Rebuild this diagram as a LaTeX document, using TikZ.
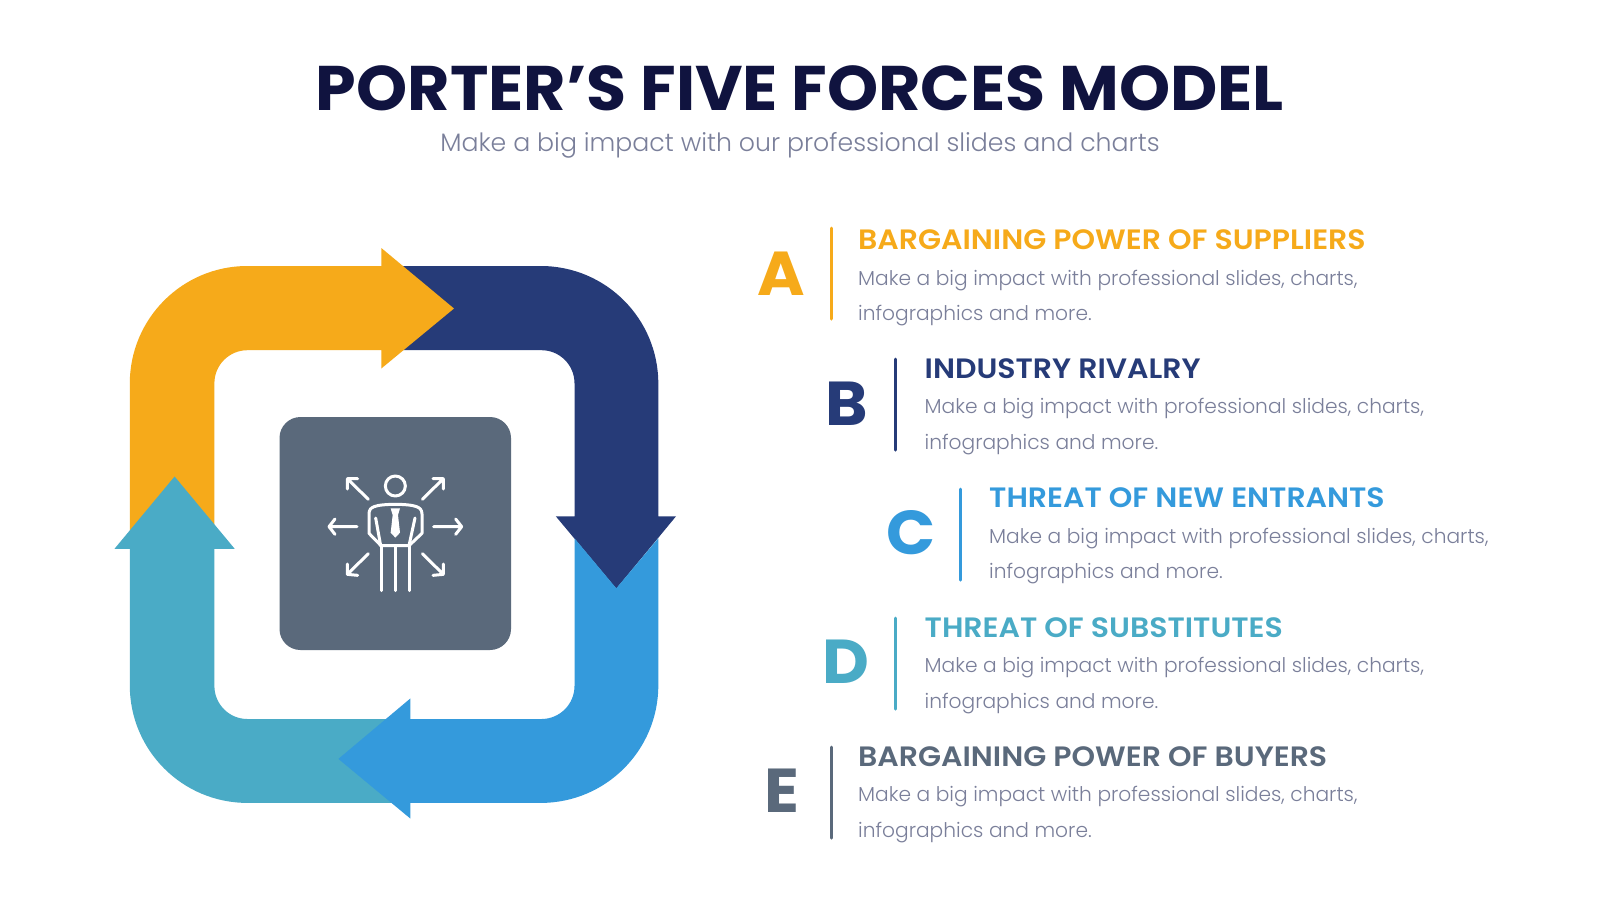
\documentclass[tikz,border=0pt]{standalone}
\usepackage{fontspec}
\setmainfont{Poppins}
\newfontfamily\tfont[FakeStretch=1.033]{Poppins Bold}
\newfontfamily\hfont[FakeStretch=1.07]{Poppins SemiBold}
\newfontfamily\lfont[FakeStretch=1.04]{Poppins Bold}
\newfontfamily\bfont{Poppins Light}
\definecolor{cyellow}{HTML}{F6AA1A}
\definecolor{cnavy}{HTML}{263B78}
\definecolor{cblue}{HTML}{349ADC}
\definecolor{cteal}{HTML}{4AABC6}
\definecolor{cslate}{HTML}{5A697B}
\definecolor{ctitle}{HTML}{10133F}
\definecolor{cgrey}{HTML}{7A7F9A}
\tikzset{
 x=1pt,y=-1pt,
 titletext/.style={font=\tfont\fontsize{63}{63}\selectfont,text=ctitle,anchor=base,inner sep=0pt},
 subtext/.style={font=\bfont\fontsize{25.2}{26}\selectfont,text=cgrey,anchor=base,inner sep=0pt},
 headtext/.style={font=\hfont\fontsize{28}{28}\selectfont,anchor=base west,inner sep=0pt},
 bodytext/.style={font=\bfont\fontsize{20.2}{21}\selectfont,text=cgrey,anchor=base west,inner sep=0pt},
 lettertext/.style={font=\lfont\fontsize{62}{62}\selectfont,anchor=base,inner sep=0pt},
 sepbar/.style={line width=3pt,line cap=round},
 iconline/.style={draw=white,line width=3pt,line cap=round,line join=round},
}
\begin{document}
\begin{tikzpicture}
\useasboundingbox (0,0) rectangle (1600,900);
\fill[white] (0,0) rectangle (1600,900);
% ring
\fill[cnavy] (395,266) -- (540.8,266) .. controls (605.7,266) and (658.3,318.6) .. (658.3,383.5) -- (658.3,516.3) -- (676,516.3) -- (616.3,588.6) -- (555.8,516.3) -- (574.5,516.3) -- (574.5,383.2) .. controls (574.5,365) and (559.7,350.2) .. (541.5,350.2) -- (395,350.2) -- cycle;
\fill[cyellow] (129.8,535) -- (129.8,383.5) .. controls (129.8,318.6) and (182.4,266) .. (247.3,266) -- (381.3,266) -- (381.3,248) -- (454,308.5) -- (381.3,368.5) -- (381.3,350.2) -- (247.4,350.2) .. controls (229.2,350.2) and (214.4,365) .. (214.4,383.2) -- (214.4,535) -- cycle;
\fill[cteal] (400,719) -- (247.4,719) .. controls (229.2,719) and (214.4,704.2) .. (214.4,686) -- (214.4,548.8) -- (234.7,548.8) -- (174.6,476.5) -- (114.5,548.8) -- (129.8,548.8) -- (129.8,685.4) .. controls (129.8,750.3) and (182.4,802.9) .. (247.3,802.9) -- (400,802.9) -- cycle;
\fill[cblue] (574.5,538.3) -- (616.3,588.3) -- (658.3,538.3) -- (658.3,685.4) .. controls (658.3,750.3) and (605.7,802.9) .. (540.8,802.9) -- (410.4,802.9) -- (410.4,818.6) -- (338.4,758.9) -- (410.4,698.4) -- (410.4,719) -- (541.5,719) .. controls (559.7,719) and (574.5,704.2) .. (574.5,686) -- cycle;
% centre
\fill[cslate,rounded corners=21pt] (279.5,417) rectangle (511,650);
\begin{scope}[shift={(260,400)},scale=1/3]
\draw[iconline] (406,258) circle[radius=30];
\draw[iconline] (325,298) -- (262,236) (262,267) -- (262,236) -- (293,236);
\draw[iconline] (487,298) -- (550,236) (519,236) -- (550,236) -- (550,267);
\draw[iconline] (291,380) -- (207,380) (225,357) -- (207,380) -- (225,403);
\draw[iconline] (521,380) -- (605,380) (587,357) -- (605,380) -- (587,403);
\draw[iconline] (325,461) -- (262,523) (262,492) -- (262,523) -- (293,526);
\draw[iconline] (487,461) -- (550,523) (519,526) -- (550,523) -- (550,492);
\draw[iconline] (406,313) .. controls (380,313) and (355,315) .. (342,320) .. controls (332,324) and (327,330) .. (327,342) -- (327,400) -- (363,437) -- (447,437) -- (486,400) -- (486,342) .. controls (486,330) and (480,324) .. (470,320) .. controls (457,315) and (432,313) .. (406,313);
\draw[iconline] (347,354) -- (362,437) (465,354) -- (447,437);
\draw[iconline] (364,437) -- (364,572) (406,437) -- (406,572) (447,437) -- (447,572);
\fill[white] (392,325) -- (420,325) -- (414,345) -- (420,398) -- (406,413) -- (392,398) -- (398,345) -- cycle;
\end{scope}
% title
\node[titletext] (title) at (800,110) {PORTER’S FIVE FORCES MODEL};
\node[subtext] (subtitle) at (800,151) {Make a big impact with our professional slides and charts};
% items
\node[lettertext,text=cyellow] (la) at (781,295) {A};
\draw[sepbar,cyellow] (831.5,228) -- (831.5,319);
\node[headtext,text=cyellow] (ha) at (858,249.5) {BARGAINING POWER OF SUPPLIERS};
\node[bodytext] (ba1) at (858,285) {Make a big impact with professional slides, charts,};
\node[bodytext] (ba2) at (858,320.7) {infographics and more.};
\node[lettertext,text=cnavy] (lb) at (847,425.5) {B};
\draw[sepbar,cnavy] (895.5,359) -- (895.5,450);
\node[headtext,text=cnavy] (hb) at (924.5,378.5) {INDUSTRY RIVALRY};
\node[bodytext] (bb1) at (924.5,413.6) {Make a big impact with professional slides, charts,};
\node[bodytext] (bb2) at (924.5,449.3) {infographics and more.};
\node[lettertext,text=cblue] (lc) at (911,554.5) {C};
\draw[sepbar,cblue] (960.5,489) -- (960.5,580);
\node[headtext,text=cblue] (hc) at (989,507.5) {THREAT OF NEW ENTRANTS};
\node[bodytext] (bc1) at (989,543) {Make a big impact with professional slides, charts,};
\node[bodytext] (bc2) at (989,578.7) {infographics and more.};
\node[lettertext,text=cteal] (ld) at (846,683.5) {D};
\draw[sepbar,cteal] (895.5,618) -- (895.5,709);
\node[headtext,text=cteal] (hd) at (924.5,637.3) {THREAT OF SUBSTITUTES};
\node[bodytext] (bd1) at (924.5,672.8) {Make a big impact with professional slides, charts,};
\node[bodytext] (bd2) at (924.5,708.5) {infographics and more.};
\node[lettertext,text=cslate] (le) at (782,812.5) {E};
\draw[sepbar,cslate] (831.5,747) -- (831.5,838);
\node[headtext,text=cslate] (he) at (858,766) {BARGAINING POWER OF BUYERS};
\node[bodytext] (be1) at (858,801.3) {Make a big impact with professional slides, charts,};
\node[bodytext] (be2) at (858,837) {infographics and more.};
\end{tikzpicture}
\end{document}
